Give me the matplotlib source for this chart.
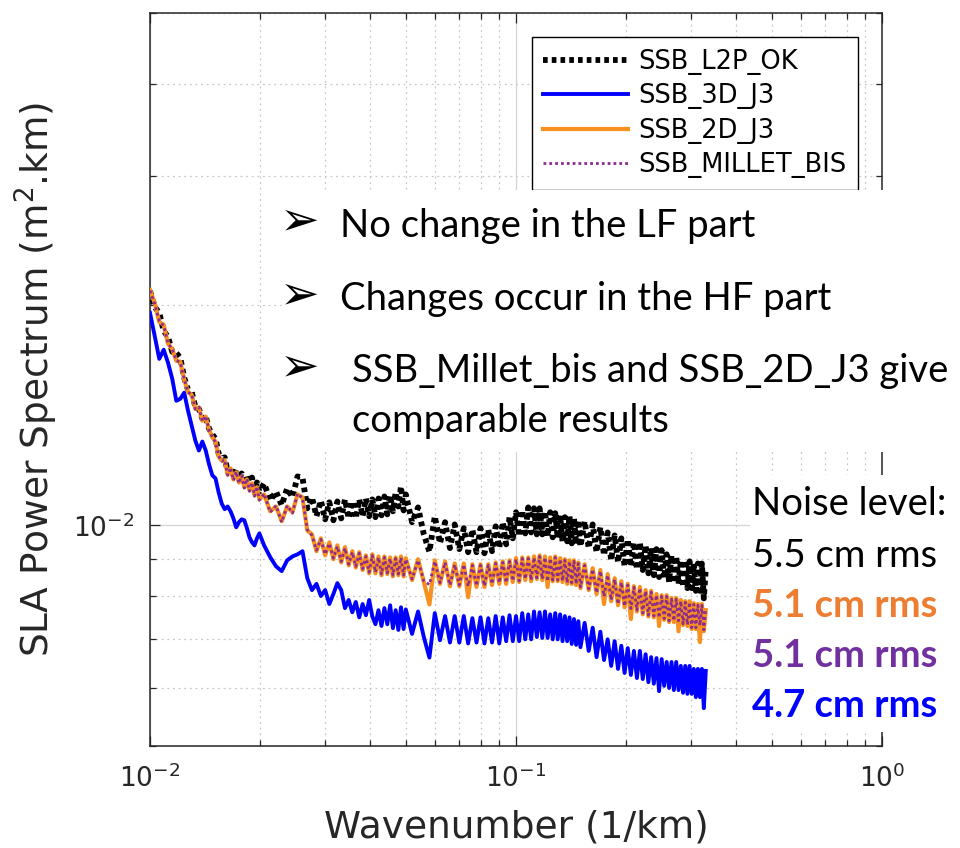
import matplotlib
matplotlib.use('Agg')
import matplotlib.pyplot as plt
from matplotlib.patches import Rectangle
from matplotlib.ticker import LogLocator, NullFormatter

# ---------------- data ----------------
wavenumber = [
    0.0100, 0.0103, 0.0106, 0.0109, 0.0112, 0.0115, 0.0118, 0.0121, 0.0124, 0.0127,
    0.0130, 0.0133, 0.0136, 0.0139, 0.0142, 0.0145, 0.0148, 0.0151, 0.0154, 0.0157,
    0.0160, 0.0163, 0.0166, 0.0169, 0.0172, 0.0175, 0.0178, 0.0181, 0.0184, 0.0187,
    0.0190, 0.0193, 0.0196, 0.0199,
    0.0205, 0.0213, 0.0221, 0.0229, 0.0237, 0.0245, 0.0253, 0.0261, 0.0269, 0.0277,
    0.0285, 0.0293, 0.0301, 0.0309, 0.0317, 0.0325, 0.0333, 0.0341, 0.0349, 0.0357,
    0.0365, 0.0373, 0.0381, 0.0389, 0.0397, 0.0405, 0.0413, 0.0421, 0.0429, 0.0437,
    0.0445, 0.0453, 0.0461, 0.0469, 0.0477, 0.0485, 0.0493,
    0.050, 0.052, 0.054, 0.056, 0.058, 0.060, 0.062, 0.064, 0.066, 0.068,
    0.070, 0.072, 0.074, 0.076, 0.078, 0.080, 0.082, 0.084, 0.086, 0.088,
    0.090, 0.092, 0.094, 0.096, 0.098, 0.100, 0.102, 0.104, 0.106, 0.108,
    0.110, 0.112, 0.114, 0.116, 0.118, 0.120, 0.122, 0.124, 0.126, 0.128,
    0.130, 0.132, 0.134, 0.136, 0.138, 0.140, 0.142, 0.144, 0.146, 0.148, 0.150,
    0.154, 0.158, 0.162, 0.166, 0.170, 0.174, 0.178, 0.182, 0.186, 0.190,
    0.194, 0.198, 0.202, 0.206, 0.210, 0.214, 0.218, 0.222, 0.226, 0.230,
    0.234, 0.238, 0.242, 0.246, 0.250, 0.254, 0.258, 0.262, 0.266, 0.270,
    0.274, 0.278, 0.282, 0.286, 0.290, 0.294, 0.298, 0.302, 0.306, 0.310,
    0.314, 0.318, 0.322, 0.326, 0.330,
]

ssb_l2p_ok = [
    0.02088, 0.01986, 0.01949, 0.01842, 0.01807, 0.01725, 0.01719, 0.01692, 0.01590, 0.01531,
    0.01521, 0.01451, 0.01442, 0.01398, 0.01407, 0.01355, 0.01330, 0.01313, 0.01253, 0.01234,
    0.01238, 0.01184, 0.01200, 0.01166, 0.01192, 0.01155, 0.01177, 0.01137, 0.01170, 0.01130,
    0.01162, 0.01120, 0.01144, 0.01112,
    0.01141, 0.01081, 0.01112, 0.01065, 0.01123, 0.01092, 0.01166, 0.01162, 0.01055, 0.01092,
    0.01029, 0.01081, 0.01019, 0.01075, 0.01016, 0.01078, 0.01022, 0.01085, 0.01022, 0.01078,
    0.01022, 0.01085, 0.01029, 0.01088, 0.01029, 0.01085, 0.01026, 0.01088, 0.01032, 0.01095,
    0.01035, 0.01099, 0.01045, 0.01109, 0.01061, 0.01130, 0.01048,
    0.01102, 0.01010, 0.01058, 0.00972, 0.00920, 0.01029, 0.00945, 0.01010, 0.00931, 0.01003,
    0.00928, 0.00991, 0.00919, 0.00987, 0.00919, 0.00991, 0.00916, 0.00987, 0.00922, 0.00997,
    0.00931, 0.01010, 0.00942, 0.01026, 0.00960, 0.01042, 0.00966, 0.01048, 0.00975, 0.01058,
    0.00978, 0.01055, 0.00972, 0.01055, 0.00972, 0.01045, 0.00966, 0.01042, 0.00963, 0.01039,
    0.00960, 0.01032, 0.00951, 0.01026, 0.00951, 0.01029, 0.00945, 0.01022, 0.00942, 0.01016, 0.00936,
    0.01013, 0.00931, 0.01003, 0.00919, 0.00994, 0.00910, 0.00978, 0.00896, 0.00969, 0.00890,
    0.00960, 0.00879, 0.00957, 0.00879, 0.00948, 0.00871, 0.00948, 0.00869, 0.00939, 0.00860,
    0.00931, 0.00855, 0.00928, 0.00850, 0.00925, 0.00847, 0.00913, 0.00837, 0.00910, 0.00834,
    0.00907, 0.00832, 0.00896, 0.00824, 0.00896, 0.00821, 0.00893, 0.00821, 0.00887, 0.00814,
    0.00887, 0.00814, 0.00887, 0.00795, 0.00873,
]

ssb_3d_j3 = [
    0.01949, 0.01813, 0.01687, 0.01736, 0.01667, 0.01585, 0.01479, 0.01488, 0.01517, 0.01434,
    0.01368, 0.01305, 0.01265, 0.01301, 0.01265, 0.01211, 0.01170, 0.01159, 0.01109, 0.01071,
    0.01052, 0.01061, 0.01045, 0.01022, 0.00994, 0.01010, 0.01019, 0.01016, 0.00991, 0.00963,
    0.00948, 0.00939, 0.00960, 0.00975,
    0.00939, 0.00905, 0.00879, 0.00866, 0.00896, 0.00907, 0.00913, 0.00922, 0.00847, 0.00816,
    0.00832, 0.00801, 0.00816, 0.00781, 0.00806, 0.00834, 0.00816, 0.00771, 0.00791, 0.00761,
    0.00786, 0.00749, 0.00781, 0.00754, 0.00791, 0.00751, 0.00733, 0.00766, 0.00729, 0.00771,
    0.00733, 0.00778, 0.00724, 0.00766, 0.00720, 0.00773, 0.00722,
    0.00768, 0.00711, 0.00763, 0.00704, 0.00660, 0.00759, 0.00697, 0.00752, 0.00692, 0.00752,
    0.00692, 0.00752, 0.00690, 0.00747, 0.00692, 0.00749, 0.00690, 0.00747, 0.00692, 0.00752,
    0.00690, 0.00749, 0.00695, 0.00754, 0.00695, 0.00752, 0.00695, 0.00759, 0.00699, 0.00756,
    0.00699, 0.00763, 0.00704, 0.00761, 0.00702, 0.00763, 0.00702, 0.00756, 0.00699, 0.00759,
    0.00699, 0.00756, 0.00695, 0.00752, 0.00695, 0.00749, 0.00689, 0.00745, 0.00687, 0.00740, 0.00682,
    0.00736, 0.00674, 0.00725, 0.00661, 0.00716, 0.00655, 0.00699, 0.00643, 0.00695, 0.00637,
    0.00685, 0.00629, 0.00680, 0.00625, 0.00674, 0.00619, 0.00674, 0.00617, 0.00667, 0.00611,
    0.00661, 0.00608, 0.00659, 0.00594, 0.00657, 0.00604, 0.00651, 0.00600, 0.00651, 0.00596,
    0.00651, 0.00596, 0.00643, 0.00591, 0.00643, 0.00589, 0.00643, 0.00589, 0.00637, 0.00583,
    0.00637, 0.00583, 0.00637, 0.00563, 0.00633,
]

ssb_2d_j3 = [
    0.02095, 0.02011, 0.01895, 0.01877, 0.01769, 0.01741, 0.01677, 0.01672, 0.01580, 0.01521,
    0.01507, 0.01442, 0.01447, 0.01389, 0.01407, 0.01351, 0.01318, 0.01301, 0.01241, 0.01226,
    0.01226, 0.01173, 0.01196, 0.01155, 0.01181, 0.01144, 0.01166, 0.01127, 0.01155, 0.01116,
    0.01141, 0.01099, 0.01127, 0.01085,
    0.01102, 0.01045, 0.01061, 0.01013, 0.01061, 0.01042, 0.01102, 0.01092, 0.00984, 0.00972,
    0.00922, 0.00960, 0.00910, 0.00948, 0.00899, 0.00939, 0.00890, 0.00934, 0.00882, 0.00922,
    0.00876, 0.00919, 0.00869, 0.00910, 0.00860, 0.00913, 0.00860, 0.00907, 0.00855, 0.00907,
    0.00858, 0.00904, 0.00852, 0.00904, 0.00855, 0.00907, 0.00852,
    0.00902, 0.00842, 0.00899, 0.00837, 0.00780, 0.00896, 0.00832, 0.00893, 0.00826, 0.00887,
    0.00826, 0.00887, 0.00798, 0.00885, 0.00824, 0.00885, 0.00824, 0.00885, 0.00829, 0.00890,
    0.00832, 0.00893, 0.00832, 0.00896, 0.00837, 0.00902, 0.00837, 0.00904, 0.00842, 0.00904,
    0.00839, 0.00907, 0.00845, 0.00910, 0.00842, 0.00907, 0.00824, 0.00904, 0.00839, 0.00907,
    0.00839, 0.00902, 0.00837, 0.00899, 0.00832, 0.00896, 0.00832, 0.00896, 0.00829, 0.00890, 0.00821,
    0.00885, 0.00816, 0.00874, 0.00806, 0.00869, 0.00781, 0.00858, 0.00788, 0.00847, 0.00778,
    0.00839, 0.00773, 0.00832, 0.00745, 0.00826, 0.00763, 0.00824, 0.00756, 0.00816, 0.00751,
    0.00814, 0.00749, 0.00806, 0.00729, 0.00803, 0.00743, 0.00803, 0.00738, 0.00796, 0.00738,
    0.00796, 0.00717, 0.00791, 0.00731, 0.00788, 0.00729, 0.00788, 0.00722, 0.00783, 0.00722,
    0.00781, 0.00693, 0.00781, 0.00717, 0.00766,
]

ssb_millet_bis = [
    0.02090, 0.02005, 0.01900, 0.01872, 0.01772, 0.01738, 0.01680, 0.01668, 0.01585, 0.01518,
    0.01510, 0.01440, 0.01450, 0.01386, 0.01410, 0.01348, 0.01320, 0.01298, 0.01244, 0.01223,
    0.01229, 0.01170, 0.01199, 0.01152, 0.01184, 0.01141, 0.01169, 0.01124, 0.01158, 0.01113,
    0.01144, 0.01096, 0.01130, 0.01082,
    0.01105, 0.01042, 0.01064, 0.01010, 0.01064, 0.01039, 0.01105, 0.01089, 0.00987, 0.00969,
    0.00925, 0.00957, 0.00913, 0.00945, 0.00902, 0.00936, 0.00893, 0.00931, 0.00885, 0.00919,
    0.00879, 0.00916, 0.00872, 0.00907, 0.00863, 0.00910, 0.00863, 0.00904, 0.00858, 0.00904,
    0.00861, 0.00901, 0.00855, 0.00901, 0.00858, 0.00904, 0.00855,
    0.00899, 0.00845, 0.00896, 0.00840, 0.00830, 0.00893, 0.00835, 0.00890, 0.00829, 0.00884,
    0.00829, 0.00884, 0.00826, 0.00882, 0.00827, 0.00882, 0.00827, 0.00882, 0.00832, 0.00887,
    0.00835, 0.00890, 0.00835, 0.00893, 0.00840, 0.00899, 0.00840, 0.00901, 0.00845, 0.00901,
    0.00842, 0.00904, 0.00848, 0.00907, 0.00845, 0.00904, 0.00839, 0.00901, 0.00842, 0.00904,
    0.00842, 0.00899, 0.00840, 0.00896, 0.00835, 0.00893, 0.00835, 0.00893, 0.00832, 0.00887, 0.00824,
    0.00882, 0.00819, 0.00871, 0.00809, 0.00866, 0.00800, 0.00855, 0.00791, 0.00844, 0.00781,
    0.00836, 0.00776, 0.00829, 0.00770, 0.00823, 0.00766, 0.00821, 0.00759, 0.00813, 0.00754,
    0.00811, 0.00752, 0.00803, 0.00748, 0.00800, 0.00746, 0.00800, 0.00741, 0.00793, 0.00741,
    0.00793, 0.00741, 0.00788, 0.00734, 0.00785, 0.00732, 0.00785, 0.00725, 0.00780, 0.00725,
    0.00778, 0.00730, 0.00778, 0.00720, 0.00769,
]

series_labels = ['SSB_L2P_OK', 'SSB_3D_J3', 'SSB_2D_J3', 'SSB_MILLET_BIS']
bullet_lines = ['No change in the LF part',
                'Changes occur in the HF part',
                'SSB_Millet_bis and SSB_2D_J3 give']
bullet_cont = 'comparable results'
noise_title = 'Noise level:'
noise_values = ['5.5 cm rms', '5.1 cm rms', '5.1 cm rms', '4.7 cm rms']

# ---------------- styling ----------------
W, H = 960, 848
DARK = '#262626'
C_BLACK = '#000000'
C_BLUE = '#0000FF'
C_ORANGE = '#F7901E'
C_PURPLE = '#8E2C8E'
noise_colors = ['#000000', '#ED7D31', '#7030A0', '#0000FF']
noise_weights = ['normal', 'bold', 'bold', 'bold']


def fx(px):
    return px / W


def fy(py):
    return 1 - py / H


fig = plt.figure(figsize=(W / 100, H / 100), dpi=100)
fig.patch.set_facecolor('white')
ax = fig.add_axes([fx(150), fy(746), (882 - 150) / W, (746 - 13) / H])

ax.plot(wavenumber, ssb_l2p_ok, color=C_BLACK, lw=4.2, ls=(0, (0.8, 0.7)),
        label=series_labels[0], zorder=3)
ax.plot(wavenumber, ssb_3d_j3, color=C_BLUE, lw=2.8, ls='-',
        label=series_labels[1], zorder=4)
ax.plot(wavenumber, ssb_2d_j3, color=C_ORANGE, lw=3.0, ls='-',
        label=series_labels[2], zorder=5)
ax.plot(wavenumber, ssb_millet_bis, color=C_PURPLE, lw=2.0, ls=(0, (1, 1.1)),
        label=series_labels[3], zorder=6)

ax.set_xscale('log')
ax.set_yscale('log')
ax.set_xlim(0.01, 1)
ax.set_ylim(0.005, 0.05)
ax.xaxis.set_major_locator(LogLocator(base=10))
ax.xaxis.set_minor_locator(LogLocator(base=10, subs=range(2, 10)))
ax.yaxis.set_major_locator(LogLocator(base=10))
ax.yaxis.set_minor_locator(LogLocator(base=10, subs=range(2, 10)))
ax.xaxis.set_minor_formatter(NullFormatter())
ax.yaxis.set_minor_formatter(NullFormatter())

ax.set_axisbelow(True)
ax.grid(True, which='major', color='#d4d4d4', ls='-', lw=0.9)
ax.grid(True, which='minor', color='#c8c8c8', ls=(0, (1.5, 3)), lw=0.9)

for s in ax.spines.values():
    s.set_color(DARK)
    s.set_linewidth(1.1)

ax.tick_params(which='both', direction='in', top=True, right=True,
               colors=DARK, labelcolor=DARK, width=0.9)
ax.tick_params(which='major', length=7, labelsize=19)
ax.tick_params(which='minor', length=4)
ax.tick_params(axis='x', which='major', pad=13)
ax.tick_params(axis='y', which='major', pad=11)

ax.set_xlabel('Wavenumber (1/km)', fontsize=27, color=DARK, labelpad=12)
ax.set_ylabel('SLA Power Spectrum (m$^2$.km)', fontsize=27, color=DARK, labelpad=10)

leg = ax.legend(loc='upper right', bbox_to_anchor=(0.967, 0.967), fontsize=18.5,
                frameon=True, fancybox=False, edgecolor='black', framealpha=1,
                handlelength=3.3, handletextpad=0.4, labelspacing=0.33,
                borderpad=0.45, borderaxespad=0)
leg.get_frame().set_linewidth(1.0)
leg.set_zorder(10)

# white panels behind the annotations
fig.add_artist(Rectangle((fx(285), fy(452)), (W - 285) / W, (452 - 190) / H,
                         transform=fig.transFigure, facecolor='white',
                         edgecolor='none', zorder=5))
fig.add_artist(Rectangle((fx(750), fy(732)), (W - 750) / W, (732 - 475) / H,
                         transform=fig.transFigure, facecolor='white',
                         edgecolor='none', zorder=5))

# bullet annotations
arrow_y = [222, 296, 368]
base_y = [237, 310, 382]
text_x = [340, 340, 352]
for ay, by, tx, line in zip(arrow_y, base_y, text_x, bullet_lines):
    fig.text(fx(300), fy(ay), '\u27a2', fontsize=34, family=['DejaVu Sans'],
             ha='center', va='center', color='black', zorder=6)
    fig.text(fx(tx), fy(by), line, fontsize=27.5, family=['Lato', 'DejaVu Sans'],
             ha='left', va='baseline', color='black', zorder=6)
fig.text(fx(352), fy(432), bullet_cont, fontsize=27.5, family=['Lato', 'DejaVu Sans'],
         ha='left', va='baseline', color='black', zorder=6)

# noise level block
fig.text(fx(752), fy(515), noise_title, fontsize=27.5, family=['Lato', 'DejaVu Sans'],
         ha='left', va='baseline', color='black', zorder=6)
noise_base = [567, 617, 667, 717]
for by, txt, col, wgt in zip(noise_base, noise_values, noise_colors, noise_weights):
    fig.text(fx(752), fy(by), txt, fontsize=27.5, family=['Lato', 'DejaVu Sans'],
             fontweight=wgt, ha='left', va='baseline', color=col, zorder=6)

fig.savefig('out.png', dpi=100, facecolor='white')
